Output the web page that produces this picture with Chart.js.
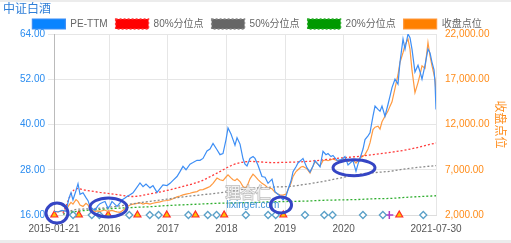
<!DOCTYPE html>
<html>
<head>
<meta charset="utf-8">
<script src="https://cdn.jsdelivr.net/npm/chart.js@4.4.1/dist/chart.umd.min.js"></script>
<style>
html, body { margin: 0; padding: 0; background: #fff; }
#wrap { width: 511px; height: 243px; box-sizing: border-box; border-top: 2px solid #ececec; border-bottom: 3px solid #ececec; }
canvas { display: block; }
</style>
</head>
<body>
<div id="wrap"><canvas id="chart" width="511" height="238"></canvas></div>
<script>
// x values are decimal years
var tickValues = [2015.055, 2016, 2017, 2018, 2019, 2020, 2021.577];
var tickLabels = ["2015-01-21", "2016", "2017", "2018", "2019", "2020", "2021-07-30"];

var dates = [
  2015.055, 2015.123, 2015.192, 2015.260, 2015.311, 2015.345, 2015.379, 2015.431, 2015.465, 2015.499,
  2015.550, 2015.601, 2015.636, 2015.670, 2015.721, 2015.755, 2015.806, 2015.840, 2015.892, 2015.926,
  2015.977, 2016.011, 2016.045, 2016.096, 2016.131, 2016.182, 2016.216, 2016.267, 2016.301, 2016.353,
  2016.404, 2016.455, 2016.523, 2016.575, 2016.626, 2016.694, 2016.745, 2016.814, 2016.865, 2016.916,
  2016.984, 2017.036, 2017.087, 2017.155, 2017.206, 2017.257, 2017.309, 2017.377, 2017.428, 2017.497,
  2017.548, 2017.599, 2017.667, 2017.718, 2017.770, 2017.838, 2017.889, 2017.940, 2017.992, 2018.026,
  2018.077, 2018.111, 2018.145, 2018.180, 2018.231, 2018.282, 2018.316, 2018.350, 2018.401, 2018.453,
  2018.487, 2018.538, 2018.606, 2018.658, 2018.709, 2018.777, 2018.828, 2018.879, 2018.914, 2018.965,
  2019.016, 2019.050, 2019.101, 2019.136, 2019.187, 2019.221, 2019.272, 2019.306, 2019.375, 2019.426,
  2019.477, 2019.511, 2019.562, 2019.597, 2019.648, 2019.699, 2019.733, 2019.784, 2019.818, 2019.887,
  2019.938, 2019.989, 2020.023, 2020.075, 2020.126, 2020.160, 2020.211, 2020.245, 2020.279, 2020.331,
  2020.365, 2020.416, 2020.450, 2020.501, 2020.536, 2020.587, 2020.621, 2020.655, 2020.706, 2020.757,
  2020.792, 2020.826, 2020.877, 2020.928, 2020.962, 2021.014, 2021.048, 2021.099, 2021.133, 2021.167,
  2021.218, 2021.270, 2021.304, 2021.338, 2021.389, 2021.440, 2021.475, 2021.509, 2021.543, 2021.560,
  2021.577
];
var peTtm = [
  17.0, 16.8, 17.2, 17.0, 20.5, 21.9, 20.0, 22.5, 24.3, 21.5,
  21.9, 20.6, 19.8, 18.2, 17.6, 17.3, 18.5, 19.0, 19.4, 19.6,
  17.8, 18.5, 19.6, 18.8, 18.3, 19.2, 20.0, 20.5, 20.9, 21.4,
  21.9, 23.0, 24.5, 23.5, 24.2, 23.2, 23.8, 22.0, 23.0, 24.0,
  23.8, 24.4, 25.2, 26.2, 27.5, 28.9, 28.0, 29.5, 29.9, 30.5,
  30.5, 31.0, 33.0, 33.5, 35.0, 33.3, 32.0, 32.3, 36.0, 39.1,
  37.5, 36.0, 34.5, 36.5, 34.8, 30.9, 29.5, 29.0, 31.0, 31.5,
  31.0, 29.2, 26.2, 26.0, 24.4, 25.5, 22.2, 21.5, 21.0, 20.0,
  21.0, 22.7, 25.0, 27.5, 28.8, 29.8, 30.5, 31.0, 28.5, 27.4,
  29.0, 30.4, 29.5, 28.8, 32.9, 32.0, 32.3, 31.5, 31.8, 30.5,
  30.6, 31.0, 31.5, 29.3, 30.0, 30.4, 27.6, 29.5, 31.0, 33.5,
  36.0, 37.0, 37.8, 42.2, 44.9, 44.0, 43.5, 44.9, 42.2, 45.3,
  47.5, 49.8, 52.0, 50.7, 56.5, 62.7, 60.0, 64.0, 63.0, 60.0,
  53.9, 55.7, 54.0, 52.0, 55.7, 60.0, 59.0, 56.5, 54.5, 51.2,
  44.0
];
var closeIndex = [
  2400, 2350, 2450, 2500, 3100, 3400, 3200, 3700, 3500, 3100,
  2950, 3300, 3100, 2700, 2500, 2400, 2450, 2400, 2500, 2550,
  2350, 2450, 2500, 2400, 2350, 2300, 2450, 2700, 2900, 3100,
  3200, 3250, 3350, 3200, 3300, 3200, 3300, 3400, 3450, 3550,
  3600, 3670, 3800, 4000, 4100, 4220, 4300, 4400, 4500, 4590,
  4780, 4800, 5000, 5150, 5500, 6080, 5900, 5800, 6200, 6440,
  6100, 5890, 5800, 6000, 5700, 5150, 5000, 5150, 6000, 6500,
  6300, 5900, 5500, 5300, 5000, 4900, 4500, 4300, 4220, 4200,
  4300, 4780, 5500, 6260, 6800, 7000, 7300, 7370, 7100, 6630,
  7400, 7900, 7600, 7400, 8000, 8100, 8000, 8100, 8200, 8000,
  8000, 8100, 8200, 7900, 8100, 8100, 7740, 8000, 8300, 8500,
  8670, 9300, 9960, 11440, 11700, 11810, 11500, 12300, 12920, 13480,
  14030, 14500, 16000, 17500, 18850, 19960, 20800, 21440, 20330, 18000,
  15520, 16630, 17500, 18480, 18200, 21070, 19590, 18480, 17500, 17000,
  15500
];

var pctDates = [
  2015.209, 2015.277, 2015.362, 2015.448, 2015.584, 2015.840, 2016.131, 2016.404, 2016.694, 2016.984,
  2017.257, 2017.548, 2017.838, 2018.111, 2018.401, 2018.794, 2019.084, 2019.375, 2019.648, 2019.938,
  2020.228, 2020.501, 2020.792, 2021.082, 2021.577
];
var pct80 = [
  16.5, 19.0, 22.0, 23.0, 22.6, 22.0, 21.4, 20.9, 21.6, 22.5,
  23.6, 24.9, 27.1, 29.3, 30.2, 29.9, 30.0, 30.2, 30.6, 31.1,
  31.5, 32.0, 32.6, 33.3, 35.1
];
var pct50 = [
  16.3, 16.8, 17.2, 17.5, 17.6, 17.8, 18.3, 19.0, 19.6, 20.2,
  20.8, 21.3, 21.8, 22.4, 23.0, 23.4, 23.6, 24.2, 24.9, 25.8,
  26.7, 27.2, 27.6, 28.3, 29.1
];
var pct20 = [
  16.2, 16.5, 16.8, 17.0, 17.2, 17.5, 17.8, 18.0, 18.2, 18.5,
  18.7, 18.9, 19.1, 19.2, 19.3, 19.5, 19.6, 19.7, 19.9, 20.0,
  20.1, 20.3, 20.4, 20.7, 21.1
];

// event markers along the bottom
var markerLevel = 16;
var diamondDates = [2015.38, 2015.70, 2015.83, 2016.34, 2016.69, 2016.84, 2017.35, 2017.68, 2017.83,
  2018.33, 2018.71, 2018.84, 2019.34, 2019.67, 2019.81, 2020.33, 2020.67, 2021.36];
var triangleDates = [2015.06, 2015.48, 2015.98, 2016.48, 2016.98, 2017.47, 2017.96, 2018.97, 2020.95];
var plusDates = [2020.78];

// hand drawn rings on the picture
var ringDates = [2015.106, 2015.985, 2018.931, 2020.177];
var ringValues = [16.5, 18.0, 18.67, 28.53];

function toXY(xs, ys) {
  return xs.map(function (x, i) { return { x: x, y: ys[i] }; });
}
function flat(xs, level) {
  return xs.map(function (x) { return { x: x, y: level }; });
}

Chart.defaults.font.family = "'Liberation Sans', 'Noto Sans CJK SC', sans-serif";
Chart.defaults.animation = false;

var legendHeight = {
  id: 'legendHeight',
  afterInit: function (chart) {
    var fit = chart.legend.fit;
    chart.legend.fit = function () {
      fit.call(this);
      this.height = 23;
    };
  }
};

var ringSizes = [[11, 10], [18.5, 9.5], [10.5, 8], [21, 8]];
var extras = {
  id: 'extras',
  afterDatasetsDraw: function (chart) {
    var ctx = chart.ctx;
    var x = chart.scales.x, y = chart.scales.y;
    ctx.save();
    // watermark
    ctx.textAlign = 'center';
    ctx.textBaseline = 'middle';
    ctx.font = "15px 'Noto Sans CJK SC'";
    ctx.lineWidth = 1.5;
    ctx.strokeStyle = 'rgba(160,160,160,0.7)';
    ctx.fillStyle = 'rgba(255,255,255,0.8)';
    ctx.strokeText('理杏仁', 248, 190);
    ctx.fillText('理杏仁', 248, 190);
    ctx.font = "10px 'Liberation Sans'";
    ctx.fillStyle = '#3a8fd6';
    ctx.fillText('lixinger.com', 253, 203);
    // rings
    ctx.strokeStyle = '#3545c4';
    ctx.lineWidth = 3;
    ringDates.forEach(function (d, i) {
      ctx.beginPath();
      ctx.ellipse(x.getPixelForValue(d), y.getPixelForValue(ringValues[i]), ringSizes[i][0], ringSizes[i][1], 0, 0, Math.PI * 2);
      ctx.stroke();
    });
    ctx.restore();
  }
};

new Chart(document.getElementById('chart'), {
  type: 'line',
  data: {
    datasets: [
      { label: 'PE-TTM', data: toXY(dates, peTtm), yAxisID: 'y', borderColor: '#3d8ef5', backgroundColor: '#0a84ff', borderWidth: 1.2, pointRadius: 0 },
      { label: '80%分位点', data: toXY(pctDates, pct80), yAxisID: 'y', borderColor: '#ff3b3b', backgroundColor: '#ff0000', borderDash: [2, 2], borderWidth: 1.3, pointRadius: 0, cubicInterpolationMode: 'monotone' },
      { label: '50%分位点', data: toXY(pctDates, pct50), yAxisID: 'y', borderColor: '#8a8a8a', backgroundColor: '#666666', borderDash: [2, 2], borderWidth: 1.3, pointRadius: 0, cubicInterpolationMode: 'monotone' },
      { label: '20%分位点', data: toXY(pctDates, pct20), yAxisID: 'y', borderColor: '#2fae2f', backgroundColor: '#009900', borderDash: [2, 2], borderWidth: 1.3, pointRadius: 0, cubicInterpolationMode: 'monotone' },
      { label: '收盘点位', data: toXY(dates, closeIndex), yAxisID: 'y1', borderColor: '#ff9a40', backgroundColor: '#ff8000', borderWidth: 1.2, pointRadius: 0 },
      { label: 'diamonds', data: flat(diamondDates, markerLevel), yAxisID: 'y', showLine: false, pointStyle: 'rectRot', pointRadius: 3.5, borderWidth: 1.3, borderColor: '#5aa0c8', backgroundColor: '#ffffff', clip: false },
      { label: 'triangles', data: flat(triangleDates, markerLevel), yAxisID: 'y', showLine: false, pointStyle: 'triangle', pointRadius: 4, borderWidth: 1.2, borderColor: '#ff2a2a', backgroundColor: '#ffc400', clip: false },
      { label: 'plus', data: flat(plusDates, markerLevel), yAxisID: 'y', showLine: false, pointStyle: 'cross', pointRadius: 4, borderWidth: 1.5, borderColor: '#b03cc8', clip: false }
    ]
  },
  options: {
    responsive: false,
    layout: { padding: { left: 3, right: 0, top: 0, bottom: 0 } },
    plugins: {
      tooltip: { enabled: false },
      title: {
        display: true, text: '中证白酒', align: 'start', color: '#2f7fd8',
        font: { size: 12, weight: 'normal' }, padding: { top: 0, bottom: -5.4 }
      },
      legend: {
        labels: {
          boxWidth: 33, boxHeight: 10, padding: 8, color: '#666', font: { size: 10 },
          filter: function (item) { return item.datasetIndex < 5; }
        }
      }
    },
    scales: {
      x: {
        type: 'linear', min: tickValues[0], max: tickValues[tickValues.length - 1],
        grid: { color: '#e6e6e6', drawTicks: false },
        border: { color: '#dddddd' },
        afterBuildTicks: function (scale) {
          scale.ticks = tickValues.map(function (v) { return { value: v }; });
        },
        afterFit: function (scale) { scale.height = 25; },
        ticks: {
          autoSkip: false, maxRotation: 0, padding: 8, color: '#555', font: { size: 10 },
          callback: function (v, i) { return tickLabels[i]; }
        }
      },
      y: {
        position: 'left', min: 16, max: 64,
        afterFit: function (scale) { scale.width = 51; },
        grid: { color: '#e6e6e6', tickLength: 6 },
        border: { color: '#bbbbbb' },
        ticks: {
          stepSize: 12, padding: 3, color: '#2a8cf0', font: { size: 10 },
          callback: function (v) { return v.toFixed(2); }
        }
      },
      y1: {
        position: 'right', min: 2000, max: 22000,
        afterFit: function (scale) { scale.width = 75; },
        grid: { drawOnChartArea: false, drawTicks: false },
        border: { display: false },
        title: { display: true, text: '收盘点位', color: '#ff8c1a', font: { size: 12 }, padding: { top: 4, bottom: 4 } },
        ticks: {
          stepSize: 5000, padding: 9, color: '#ff8c1a', font: { size: 10 },
          callback: function (v) { return v.toLocaleString('en-US', { minimumFractionDigits: 2, maximumFractionDigits: 2 }); }
        }
      }
    }
  },
  plugins: [legendHeight, extras]
});
</script>
</body>
</html>
